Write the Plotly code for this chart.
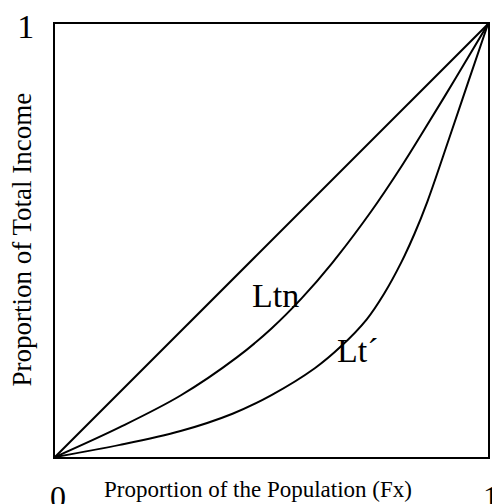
import plotly.graph_objects as go

# Data
equality_x = [0, 1]
equality_y = [0, 1]

ltn_x = [0, 0.15, 0.29, 0.42, 0.50, 0.57, 0.64, 0.73, 0.80, 0.845, 0.92, 1.0]
ltn_y = [0, 0.069, 0.142, 0.230, 0.297, 0.367, 0.448, 0.567, 0.671, 0.743, 0.866, 1.0]

ltp_x = [0, 0.15, 0.29, 0.41, 0.50, 0.60, 0.66, 0.72, 0.76, 0.80, 0.83, 0.86, 0.91, 0.955, 1.0]
ltp_y = [0, 0.028, 0.060, 0.100, 0.143, 0.205, 0.255, 0.318, 0.377, 0.450, 0.515, 0.590, 0.735, 0.868, 1.0]

curve_labels = ["Ltn", "Lt\u00b4"]
label_x = [0.51, 0.70]
label_y = [0.374, 0.247]

x_tickvals = [0, 1]
x_ticktext = ["0", "1"]
y_tickvals = [1]
y_ticktext = ["1"]

x_title = "Proportion of the Population (Fx)"
y_title = "Proportion of Total Income"

FONT = "Liberation Serif, Times New Roman, serif"
line_style = dict(color="black", width=2)

fig = go.Figure()
fig.add_trace(go.Scatter(x=equality_x, y=equality_y, mode="lines", line=line_style))
fig.add_trace(go.Scatter(x=ltn_x, y=ltn_y, mode="lines",
                         line=dict(color="black", width=2, shape="spline", smoothing=1.0)))
fig.add_trace(go.Scatter(x=ltp_x, y=ltp_y, mode="lines",
                         line=dict(color="black", width=2, shape="spline", smoothing=1.0)))

for t, lx, ly in zip(curve_labels, label_x, label_y):
    fig.add_annotation(x=lx, y=ly, text=t, showarrow=False,
                       font=dict(family=FONT, size=34, color="black"),
                       xanchor="center", yanchor="middle")

fig.add_annotation(x=0.468, y=-0.076, xref="paper", yref="paper", text=x_title,
                   showarrow=False, font=dict(family=FONT, size=23, color="black"),
                   xanchor="center", yanchor="middle")
fig.add_annotation(x=-0.075, y=0.501, xref="paper", yref="paper", text=y_title,
                   showarrow=False, textangle=-90,
                   font=dict(family=FONT, size=27, color="black"),
                   xanchor="center", yanchor="middle")

fig.update_layout(
    width=500, height=504,
    margin=dict(l=47, r=20, t=16, b=55, autoexpand=False),
    paper_bgcolor="white", plot_bgcolor="white",
    showlegend=False,
    font=dict(family=FONT, color="black"),
)
fig.update_xaxes(range=[0, 1], tickvals=x_tickvals, ticktext=x_ticktext,
                 showgrid=False, zeroline=False, showline=True, mirror=True,
                 linecolor="black", linewidth=2, ticks="", automargin=False,
                 tickfont=dict(family=FONT, size=32, color="black"),
                 ticklabelstandoff=11, ticklabelshift=3,
                 ticklabeloverflow="allow")
fig.update_yaxes(range=[0, 1], tickvals=y_tickvals, ticktext=y_ticktext,
                 showgrid=False, zeroline=False, showline=True, mirror=True,
                 linecolor="black", linewidth=2, ticks="", automargin=False,
                 tickfont=dict(family=FONT, size=34, color="black"),
                 ticklabelstandoff=12, ticklabelshift=2,
                 ticklabeloverflow="allow")

fig.write_html("out.html")
